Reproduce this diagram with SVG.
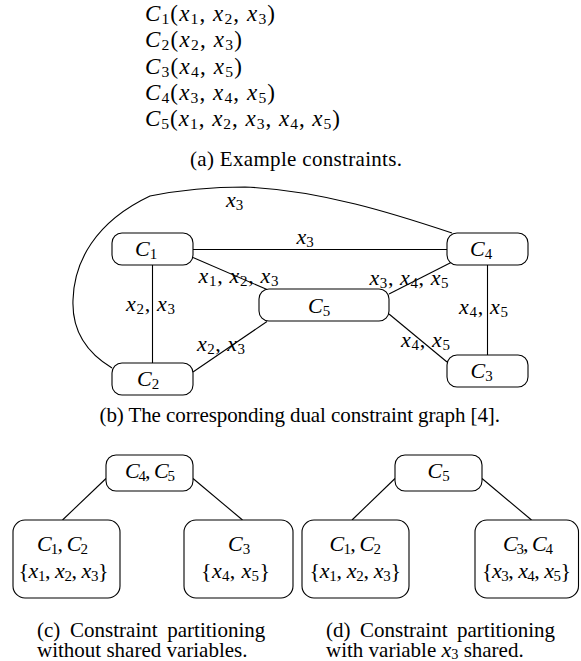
<svg xmlns="http://www.w3.org/2000/svg" width="581" height="661" viewBox="0 0 581 661">
<style>
.m{font-family:"Liberation Serif","Times New Roman",serif;font-size:22px;fill:#000}
.ma{font-family:"Liberation Serif","Times New Roman",serif;font-size:23px;fill:#000}
.i{font-style:italic}
.s{font-size:0.68em}
.cap{font-family:"Liberation Serif","Times New Roman",serif;font-size:21px;fill:#000}
.box{fill:#fff;stroke:#000;stroke-width:1.1}
.edge{fill:none;stroke:#000;stroke-width:1.1}
</style>
<rect width="581" height="661" fill="#fff"/>

<g id="constraints">
<text class="ma" x="145" y="21" textLength="130" lengthAdjust="spacing"><tspan class="i">C</tspan><tspan class="s" dy="3">1</tspan><tspan dy="-3">(</tspan><tspan class="i">x</tspan><tspan class="s" dy="3">1</tspan><tspan dy="-3">, </tspan><tspan class="i">x</tspan><tspan class="s" dy="3">2</tspan><tspan dy="-3">, </tspan><tspan class="i">x</tspan><tspan class="s" dy="3">3</tspan><tspan dy="-3">)</tspan></text>
<text class="ma" x="145" y="47" textLength="97" lengthAdjust="spacing"><tspan class="i">C</tspan><tspan class="s" dy="3">2</tspan><tspan dy="-3">(</tspan><tspan class="i">x</tspan><tspan class="s" dy="3">2</tspan><tspan dy="-3">, </tspan><tspan class="i">x</tspan><tspan class="s" dy="3">3</tspan><tspan dy="-3">)</tspan></text>
<text class="ma" x="145" y="73.5" textLength="97" lengthAdjust="spacing"><tspan class="i">C</tspan><tspan class="s" dy="3">3</tspan><tspan dy="-3">(</tspan><tspan class="i">x</tspan><tspan class="s" dy="3">4</tspan><tspan dy="-3">, </tspan><tspan class="i">x</tspan><tspan class="s" dy="3">5</tspan><tspan dy="-3">)</tspan></text>
<text class="ma" x="145" y="100" textLength="130" lengthAdjust="spacing"><tspan class="i">C</tspan><tspan class="s" dy="3">4</tspan><tspan dy="-3">(</tspan><tspan class="i">x</tspan><tspan class="s" dy="3">3</tspan><tspan dy="-3">, </tspan><tspan class="i">x</tspan><tspan class="s" dy="3">4</tspan><tspan dy="-3">, </tspan><tspan class="i">x</tspan><tspan class="s" dy="3">5</tspan><tspan dy="-3">)</tspan></text>
<text class="ma" x="145" y="126" textLength="195" lengthAdjust="spacing"><tspan class="i">C</tspan><tspan class="s" dy="3">5</tspan><tspan dy="-3">(</tspan><tspan class="i">x</tspan><tspan class="s" dy="3">1</tspan><tspan dy="-3">, </tspan><tspan class="i">x</tspan><tspan class="s" dy="3">2</tspan><tspan dy="-3">, </tspan><tspan class="i">x</tspan><tspan class="s" dy="3">3</tspan><tspan dy="-3">, </tspan><tspan class="i">x</tspan><tspan class="s" dy="3">4</tspan><tspan dy="-3">, </tspan><tspan class="i">x</tspan><tspan class="s" dy="3">5</tspan><tspan dy="-3">)</tspan></text>
</g>
<text class="cap" x="190" y="166" textLength="212" lengthAdjust="spacing">(a) Example constraints.</text>

<g id="connectors-b">
<path class="edge" d="M112,368 C82,350 72,325 73,300 C74,262 95,222 150,196 C180,190 215,187 245,187 C320,190 395,214 452,233"/>
<line class="edge" x1="193" y1="249.5" x2="447" y2="249.5"/>
<line class="edge" x1="152.5" y1="265" x2="152.5" y2="363"/>
<line class="edge" x1="193" y1="257.5" x2="267" y2="289.5"/>
<line class="edge" x1="193" y1="372" x2="267" y2="321.5"/>
<line class="edge" x1="389" y1="294" x2="452" y2="262"/>
<line class="edge" x1="389" y1="314" x2="447" y2="362"/>
<line class="edge" x1="487.5" y1="265" x2="487.5" y2="355"/>
<text class="m" x="226" y="207"><tspan class="i">x</tspan><tspan class="s" dy="3">3</tspan></text>
<text class="m" x="296.5" y="244"><tspan class="i">x</tspan><tspan class="s" dy="3">3</tspan></text>
<text class="m" x="198.5" y="283" textLength="80" lengthAdjust="spacing"><tspan class="i">x</tspan><tspan class="s" dy="3">1</tspan><tspan dy="-3">, </tspan><tspan class="i">x</tspan><tspan class="s" dy="3">2</tspan><tspan dy="-3">, </tspan><tspan class="i">x</tspan><tspan class="s" dy="3">3</tspan></text>
<text class="m" x="126" y="310.5" textLength="49" lengthAdjust="spacing"><tspan class="i">x</tspan><tspan class="s" dy="3">2</tspan><tspan dy="-3">, </tspan><tspan class="i">x</tspan><tspan class="s" dy="3">3</tspan></text>
<text class="m" x="197" y="351" textLength="48" lengthAdjust="spacing"><tspan class="i">x</tspan><tspan class="s" dy="3">2</tspan><tspan dy="-3">, </tspan><tspan class="i">x</tspan><tspan class="s" dy="3">3</tspan></text>
<text class="m" x="369.5" y="284.5" textLength="79" lengthAdjust="spacing"><tspan class="i">x</tspan><tspan class="s" dy="3">3</tspan><tspan dy="-3">, </tspan><tspan class="i">x</tspan><tspan class="s" dy="3">4</tspan><tspan dy="-3">, </tspan><tspan class="i">x</tspan><tspan class="s" dy="3">5</tspan></text>
<text class="m" x="401" y="347" textLength="49" lengthAdjust="spacing"><tspan class="i">x</tspan><tspan class="s" dy="3">4</tspan><tspan dy="-3">, </tspan><tspan class="i">x</tspan><tspan class="s" dy="3">5</tspan></text>
<text class="m" x="459" y="314" textLength="49" lengthAdjust="spacing"><tspan class="i">x</tspan><tspan class="s" dy="3">4</tspan><tspan dy="-3">, </tspan><tspan class="i">x</tspan><tspan class="s" dy="3">5</tspan></text>
</g>

<g id="b-C1"><rect class="box" x="112" y="233" width="81" height="32" rx="10"/><text class="m" x="135" y="256"><tspan class="i">C</tspan><tspan class="s" dy="3">1</tspan></text></g>
<g id="b-C2"><rect class="box" x="112" y="363" width="81" height="32" rx="10"/><text class="m" x="137" y="386"><tspan class="i">C</tspan><tspan class="s" dy="3">2</tspan></text></g>
<g id="b-C5"><rect class="box" x="259" y="289" width="130" height="32" rx="10"/><text class="m" x="308" y="312.5"><tspan class="i">C</tspan><tspan class="s" dy="3">5</tspan></text></g>
<g id="b-C4"><rect class="box" x="447" y="233" width="81" height="32" rx="10"/><text class="m" x="470" y="256"><tspan class="i">C</tspan><tspan class="s" dy="3">4</tspan></text></g>
<g id="b-C3"><rect class="box" x="447" y="355" width="81" height="32" rx="10"/><text class="m" x="470.5" y="378"><tspan class="i">C</tspan><tspan class="s" dy="3">3</tspan></text></g>
<text class="cap" x="99.5" y="422" textLength="400.5" lengthAdjust="spacing">(b) The corresponding dual constraint graph [4].</text>

<g id="connectors-c">
<line class="edge" x1="106" y1="478.5" x2="62.5" y2="520"/>
<line class="edge" x1="193" y1="478.5" x2="242.5" y2="520"/>
</g>
<g id="c-top"><rect class="box" x="106" y="455" width="87" height="36" rx="10"/><text class="m" x="125" y="477.5" textLength="50" lengthAdjust="spacing"><tspan class="i">C</tspan><tspan class="s" dy="3">4</tspan><tspan dy="-3">, </tspan><tspan class="i">C</tspan><tspan class="s" dy="3">5</tspan></text></g>
<g id="c-left"><rect class="box" x="13" y="520" width="107" height="78" rx="12"/><text class="m" x="37" y="551" textLength="51" lengthAdjust="spacing"><tspan class="i">C</tspan><tspan class="s" dy="3">1</tspan><tspan dy="-3">, </tspan><tspan class="i">C</tspan><tspan class="s" dy="3">2</tspan></text><text class="m" x="18.5" y="578" textLength="90" lengthAdjust="spacing">{<tspan class="i">x</tspan><tspan class="s" dy="3">1</tspan><tspan dy="-3">, </tspan><tspan class="i">x</tspan><tspan class="s" dy="3">2</tspan><tspan dy="-3">, </tspan><tspan class="i">x</tspan><tspan class="s" dy="3">3</tspan><tspan dy="-3">}</tspan></text></g>
<g id="c-right"><rect class="box" x="184" y="520" width="109" height="78" rx="12"/><text class="m" x="228" y="551"><tspan class="i">C</tspan><tspan class="s" dy="3">3</tspan></text><text class="m" x="201" y="578" textLength="69" lengthAdjust="spacing">{<tspan class="i">x</tspan><tspan class="s" dy="3">4</tspan><tspan dy="-3">, </tspan><tspan class="i">x</tspan><tspan class="s" dy="3">5</tspan><tspan dy="-3">}</tspan></text></g>
<text class="cap" x="37" y="636.5"><tspan word-spacing="4.5">(c) Constraint partitioning</tspan><tspan x="37" y="656.5">without shared variables.</tspan></text>

<g id="connectors-d">
<line class="edge" x1="395" y1="478.5" x2="352" y2="520"/>
<line class="edge" x1="482" y1="478.5" x2="531.5" y2="520"/>
</g>
<g id="d-top"><rect class="box" x="395" y="455" width="87" height="36" rx="10"/><text class="m" x="427.5" y="477.5"><tspan class="i">C</tspan><tspan class="s" dy="3">5</tspan></text></g>
<g id="d-left"><rect class="box" x="302" y="520" width="107" height="78" rx="12"/><text class="m" x="329.5" y="551" textLength="51.5" lengthAdjust="spacing"><tspan class="i">C</tspan><tspan class="s" dy="3">1</tspan><tspan dy="-3">, </tspan><tspan class="i">C</tspan><tspan class="s" dy="3">2</tspan></text><text class="m" x="309.5" y="578" textLength="91.5" lengthAdjust="spacing">{<tspan class="i">x</tspan><tspan class="s" dy="3">1</tspan><tspan dy="-3">, </tspan><tspan class="i">x</tspan><tspan class="s" dy="3">2</tspan><tspan dy="-3">, </tspan><tspan class="i">x</tspan><tspan class="s" dy="3">3</tspan><tspan dy="-3">}</tspan></text></g>
<g id="d-right"><rect class="box" x="475" y="520" width="103.5" height="78" rx="12"/><text class="m" x="503" y="551" textLength="50" lengthAdjust="spacing"><tspan class="i">C</tspan><tspan class="s" dy="3">3</tspan><tspan dy="-3">, </tspan><tspan class="i">C</tspan><tspan class="s" dy="3">4</tspan></text><text class="m" x="482" y="578" textLength="89" lengthAdjust="spacing">{<tspan class="i">x</tspan><tspan class="s" dy="3">3</tspan><tspan dy="-3">, </tspan><tspan class="i">x</tspan><tspan class="s" dy="3">4</tspan><tspan dy="-3">, </tspan><tspan class="i">x</tspan><tspan class="s" dy="3">5</tspan><tspan dy="-3">}</tspan></text></g>
<text class="cap" x="326" y="636.5"><tspan word-spacing="4.25">(d) Constraint partitioning</tspan><tspan x="326" y="656.5">with variable </tspan><tspan class="i" font-size="22px">x</tspan><tspan class="s" dy="2.5">3</tspan><tspan dy="-2.5"> shared.</tspan></text>
</svg>
